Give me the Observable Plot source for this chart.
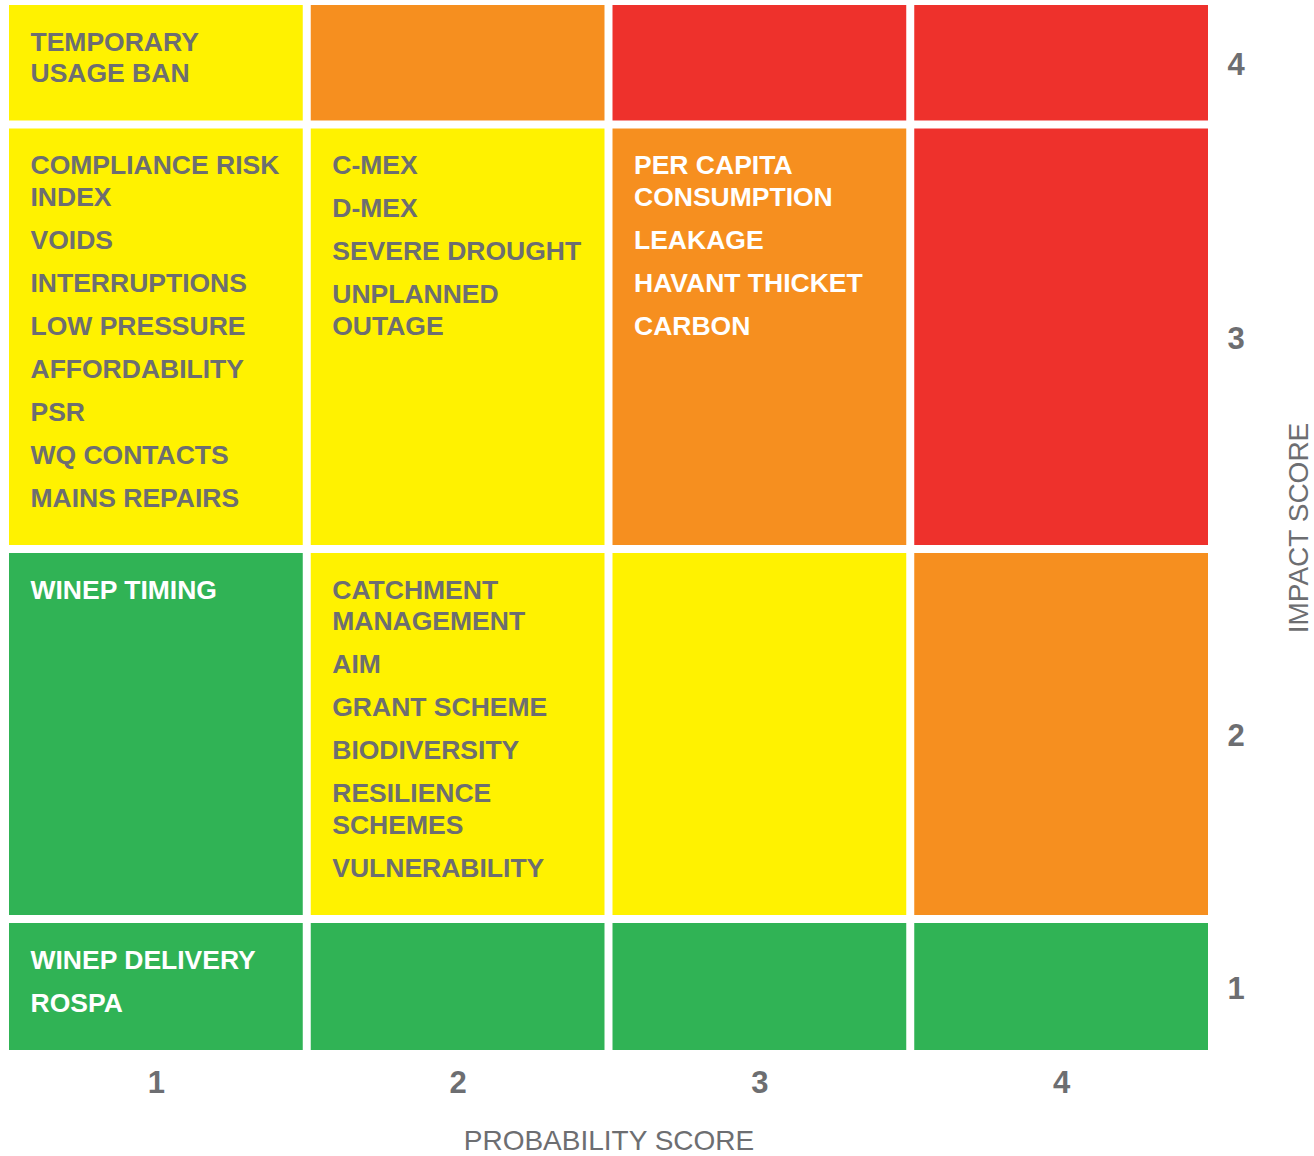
<!DOCTYPE html>
<html>
<head>
<meta charset="utf-8">
<script src="https://cdn.jsdelivr.net/npm/d3@7"></script>
<script src="https://cdn.jsdelivr.net/npm/@observablehq/plot@0.6"></script>
<style>
  html, body { margin: 0; padding: 0; background: #ffffff; }
  #chart svg { display: block; }
</style>
</head>
<body>
<div id="chart"></div>
<script>
// Probability (columns) and impact (rows, listed top to bottom)
const probabilityScores = [1, 2, 3, 4];
const impactScores = [4, 3, 2, 1];

// Risk band of each cell; one row per impact score, top row = impact 4
const riskBands = [
  ["medium", "high", "severe", "severe"],
  ["medium", "medium", "high", "severe"],
  ["low", "medium", "medium", "high"],
  ["low", "low", "low", "low"]
];

// Risks placed in the matrix; each label entry is one printed line
const risks = [
  {probability: 1, impact: 4, label: ["TEMPORARY", "USAGE BAN"]},
  {probability: 1, impact: 3, label: ["COMPLIANCE RISK", "INDEX"]},
  {probability: 1, impact: 3, label: ["VOIDS"]},
  {probability: 1, impact: 3, label: ["INTERRUPTIONS"]},
  {probability: 1, impact: 3, label: ["LOW PRESSURE"]},
  {probability: 1, impact: 3, label: ["AFFORDABILITY"]},
  {probability: 1, impact: 3, label: ["PSR"]},
  {probability: 1, impact: 3, label: ["WQ CONTACTS"]},
  {probability: 1, impact: 3, label: ["MAINS REPAIRS"]},
  {probability: 2, impact: 3, label: ["C-MEX"]},
  {probability: 2, impact: 3, label: ["D-MEX"]},
  {probability: 2, impact: 3, label: ["SEVERE DROUGHT"]},
  {probability: 2, impact: 3, label: ["UNPLANNED", "OUTAGE"]},
  {probability: 3, impact: 3, label: ["PER CAPITA", "CONSUMPTION"]},
  {probability: 3, impact: 3, label: ["LEAKAGE"]},
  {probability: 3, impact: 3, label: ["HAVANT THICKET"]},
  {probability: 3, impact: 3, label: ["CARBON"]},
  {probability: 1, impact: 2, label: ["WINEP TIMING"]},
  {probability: 2, impact: 2, label: ["CATCHMENT", "MANAGEMENT"]},
  {probability: 2, impact: 2, label: ["AIM"]},
  {probability: 2, impact: 2, label: ["GRANT SCHEME"]},
  {probability: 2, impact: 2, label: ["BIODIVERSITY"]},
  {probability: 2, impact: 2, label: ["RESILIENCE", "SCHEMES"]},
  {probability: 2, impact: 2, label: ["VULNERABILITY"]},
  {probability: 1, impact: 1, label: ["WINEP DELIVERY"]},
  {probability: 1, impact: 1, label: ["ROSPA"]}
];

// Styling
const bandFill = {low: "#30b355", medium: "#fff200", high: "#f68f1f", severe: "#ee312c"};
const labelFill = {low: "#ffffff", medium: "#6d6e71", high: "#ffffff", severe: "#ffffff"};
const gray = "#6d6e71";
const font = "'Liberation Sans', Arial, Helvetica, sans-serif";

// Text layout inside a cell (px): each row grows to fit its longest list
const padTop = 45, lineStep = 31.5, itemStep = 43, padBottom = 39, gap = 8, textInset = 21;

const lines = [];
const rowSpan = new Map();
let cursor = 0;
for (const impact of impactScores) {
  let rowHeight = 0;
  for (const probability of probabilityScores) {
    const items = risks.filter(r => r.probability === probability && r.impact === impact);
    if (!items.length) continue;
    let offset = padTop;
    items.forEach((item, k) => {
      if (k > 0) offset += itemStep;
      item.label.forEach((text, j) => {
        if (j > 0) offset += lineStep;
        lines.push({probability, impact, text, offset});
      });
    });
    rowHeight = Math.max(rowHeight, offset + padBottom);
  }
  rowSpan.set(impact, {y1: cursor, y2: cursor + rowHeight});
  cursor += rowHeight + gap;
}
const total = cursor - gap;
for (const l of lines) {
  l.y = rowSpan.get(l.impact).y1 + l.offset;
  const band = riskBands[impactScores.indexOf(l.impact)][probabilityScores.indexOf(l.probability)];
  l.fill = labelFill[band];
}

const cells = [];
impactScores.forEach((impact, ri) => {
  probabilityScores.forEach((probability, ci) => {
    const span = rowSpan.get(impact);
    cells.push({probability, impact, y1: span.y1, y2: span.y2, fill: bandFill[riskBands[ri][ci]]});
  });
});

const rowMids = impactScores.map(i => (rowSpan.get(i).y1 + rowSpan.get(i).y2) / 2);
const midToScore = new Map(rowMids.map((m, k) => [m, impactScores[k]]));

// Plot geometry
const width = 1314, height = 1156;
const marginLeft = 9, marginRight = 106, marginTop = 5, marginBottom = 106;
const plotWidth = width - marginLeft - marginRight;
const step = (plotWidth + gap) / probabilityScores.length;
const bandwidth = step - gap;

const chart = Plot.plot({
  width, height, marginLeft, marginRight, marginTop, marginBottom,
  style: {fontFamily: font, color: gray, background: "#ffffff"},
  x: {domain: probabilityScores, paddingInner: gap / step, paddingOuter: 0, round: false, axis: null},
  y: {domain: [0, total], reverse: true, axis: null},
  color: {type: "identity"},
  marks: [
    Plot.barY(cells, {x: "probability", y1: "y1", y2: "y2", fill: "fill"}),
    Plot.text(lines, {
      x: "probability", y: "y", text: "text", fill: "fill",
      textAnchor: "start", lineAnchor: "bottom",
      dx: -bandwidth / 2 + textInset,
      fontSize: 26.5, fontWeight: "bold", fontFamily: font
    }),
    Plot.axisX({
      anchor: "bottom", tickSize: 0, tickPadding: 20, label: null,
      fontSize: 31, fontWeight: "bold", fill: gray, fontFamily: font
    }),
    Plot.axisY({
      anchor: "right", ticks: rowMids, tickFormat: d => midToScore.get(d),
      tickSize: 0, tickPadding: 19, dy: 2, label: null,
      fontSize: 31, fontWeight: "bold", fill: gray, fontFamily: font
    }),
    Plot.text(["PROBABILITY SCORE"], {
      frameAnchor: "bottom", dy: 91, lineAnchor: "middle", textAnchor: "middle",
      fontSize: 28, fill: gray, fontFamily: font
    }),
    Plot.text(["IMPACT SCORE"], {
      frameAnchor: "right", dx: 91, rotate: -90, lineAnchor: "middle", textAnchor: "middle",
      fontSize: 28, fill: gray, fontFamily: font
    })
  ]
});

document.getElementById("chart").appendChild(chart);
</script>
</body>
</html>
